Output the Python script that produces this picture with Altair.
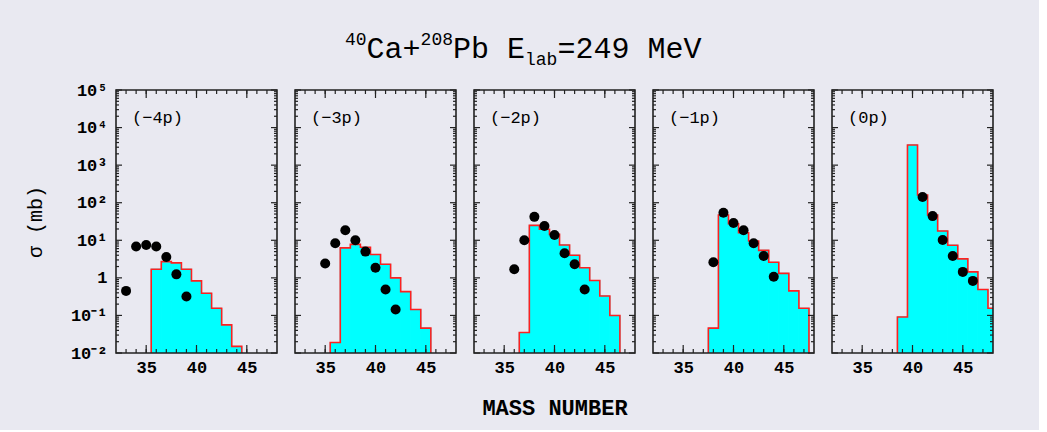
import altair as alt
import pandas as pd

# ---------------- data ----------------
panel_labels = ["(−4p)", "(−3p)", "(−2p)", "(−1p)", "(0p)"]

exp_A = [
    [33, 34, 35, 36, 37, 38, 39],
    [35, 36, 37, 38, 39, 40, 41, 42],
    [36, 37, 38, 39, 40, 41, 42, 43],
    [38, 39, 40, 41, 42, 43, 44],
    [41, 42, 43, 44, 45, 46],
]
exp_sigma = [
    [0.45, 6.8, 7.5, 6.8, 3.6, 1.24, 0.32],
    [2.4, 8.3, 18.5, 10.0, 5.0, 1.86, 0.49, 0.144],
    [1.7, 10.0, 42.0, 24.0, 13.8, 4.5, 2.3, 0.49],
    [2.6, 54.0, 29.0, 18.5, 8.3, 3.8, 1.07],
    [142.0, 44.0, 10.2, 3.8, 1.44, 0.83],
]
th_A = [
    [36, 37, 38, 39, 40, 41, 42, 43, 44],
    [36, 37, 38, 39, 40, 41, 42, 43, 44, 45],
    [37, 38, 39, 40, 41, 42, 43, 44, 45, 46],
    [38, 39, 40, 41, 42, 43, 44, 45, 46, 47],
    [39, 40, 41, 42, 43, 44, 45, 46, 47, 48],
]
th_sigma = [
    [1.7, 2.7, 2.5, 1.7, 0.83, 0.39, 0.155, 0.056, 0.015],
    [0.019, 6.3, 7.8, 6.5, 4.2, 2.3, 1.0, 0.43, 0.144, 0.046],
    [0.035, 25.0, 19.6, 14.4, 7.5, 4.0, 1.86, 0.85, 0.33, 0.10],
    [0.046, 47.0, 27.6, 15.9, 9.6, 5.4, 2.6, 1.32, 0.45, 0.155],
    [0.091, 3450.0, 161.0, 47.0, 17.7, 7.4, 3.2, 1.44, 0.49, 0.155],
]

x_domain = [32, 48]
y_domain = [0.01, 1e5]
x_ticks_major = [35, 40, 45]
x_ticks_minor = list(range(33, 48))
y_ticks_major = [0.01, 0.1, 1, 10, 100, 1000, 10000, 100000]
y_ticks_minor = [m * 10.0 ** k for k in range(-2, 5) for m in range(2, 10)]
y_tick_labels = ["10⁻²", "10⁻¹", "1", "10¹", "10²", "10³", "10⁴", "10⁵"]

title_parts = ["40", "Ca+", "208", "Pb E", "lab", "=249 MeV"]
title_kinds = ["sup", "main", "sup", "main", "sub", "main"]
x_title = "MASS NUMBER"
y_title = "σ (mb)"

# ---------------- style ----------------
W, H = 161, 263
BG = "#e9e9f1"
CYAN = "#00ffff"
FONT = "Liberation Mono"
xscale = alt.Scale(domain=x_domain, nice=False, zero=False)
yscale = alt.Scale(type="log", domain=y_domain, nice=False)
label_expr = "[" + ",".join("'%s'" % s for s in y_tick_labels) + "][round(log(datum.value)/LN10)+2]"


def panel(i):
    xaxis = alt.Axis(values=x_ticks_major, labelFontSize=17, labelFontWeight="bold",
                     labelPadding=6, tickSize=0, ticks=False, domain=False, grid=False,
                     labelFlush=False, labelOverlap=False,
                     title=(x_title if i == 2 else None), titleFontSize=22,
                     titleFontWeight="bold", titlePadding=22)
    if i == 0:
        yaxis = alt.Axis(values=y_ticks_major, labelExpr=label_expr, labelFontSize=17,
                         labelFontWeight="bold", labelPadding=9, tickSize=0, ticks=False,
                         domain=False, grid=False, labelFlush=False, labelOverlap=False,
                         title=y_title, titleFontSize=20, titleFontWeight="normal",
                         titlePadding=25)
    else:
        yaxis = None

    def X(f):
        return alt.X(f, type="quantitative", scale=xscale, axis=xaxis)

    def Y(f):
        return alt.Y(f, type="quantitative", scale=yscale, axis=yaxis)

    A = th_A[i]
    s = th_sigma[i]
    hist = pd.DataFrame({"lo": [a - 0.5 for a in A], "hi": [a + 0.5 for a in A],
                         "sigma": s, "floor": [y_domain[0]] * len(A)})
    ox = [A[0] - 0.5] + [a - 0.5 for a in A] + [A[-1] + 0.5]
    oy = [y_domain[0]] + list(s) + [y_domain[0]]
    outline = pd.DataFrame({"x": ox, "y": oy, "i": list(range(len(ox)))})
    pts = pd.DataFrame({"A": exp_A[i], "sigma": exp_sigma[i]})

    fill = alt.Chart(hist).mark_rect(fill=CYAN, stroke=CYAN, strokeWidth=1,
                                     clip=True).encode(
        x=X("lo"), x2="hi", y=Y("sigma"), y2="floor")
    line = alt.Chart(outline).mark_line(color="#ff2020", strokeWidth=1.6,
                                        interpolate="step-after", clip=True).encode(
        x=X("x"), y=Y("y"), order=alt.Order("i:Q"))
    dots = alt.Chart(pts).mark_circle(color="black", size=100, opacity=1).encode(
        x=X("A"), y=Y("sigma"))

    xmin = pd.DataFrame({"v": x_ticks_minor})
    xmaj = pd.DataFrame({"v": x_ticks_major})
    ymin = pd.DataFrame({"v": y_ticks_minor})
    ymaj = pd.DataFrame({"v": y_ticks_major})
    tk = dict(color="#222222", strokeWidth=1.2)
    layers = [fill, line, dots]
    for df, ln in ((xmin, 4), (xmaj, 8)):
        layers.append(alt.Chart(df).mark_rule(**tk).encode(
            x=X("v"), y=alt.value(H), y2=alt.value(H - ln)))
        layers.append(alt.Chart(df).mark_rule(**tk).encode(
            x=X("v"), y=alt.value(0), y2=alt.value(ln)))
    for df, ln in ((ymin, 3), (ymaj, 6)):
        layers.append(alt.Chart(df).mark_rule(**tk).encode(
            y=Y("v"), x=alt.value(0), x2=alt.value(ln)))
        layers.append(alt.Chart(df).mark_rule(**tk).encode(
            y=Y("v"), x=alt.value(W), x2=alt.value(W - ln)))
    frame = alt.Chart(pd.DataFrame({"k": [0]})).mark_rect(
        fillOpacity=0, stroke="#222222", strokeWidth=1.6).encode(
        x=alt.value(0), x2=alt.value(W), y=alt.value(0), y2=alt.value(H))
    lab = alt.Chart(pd.DataFrame({"t": [panel_labels[i]]})).mark_text(
        align="left", baseline="middle", fontSize=17, fontWeight="normal", font=FONT,
        color="black").encode(x=alt.value(16), y=alt.value(28), text="t:N")
    layers += [frame, lab]
    return alt.layer(*layers).properties(width=W, height=H)


# ---------------- title ----------------
BIG, SMALL = 30, 18
cx = 229
title_layers = []
for part, kind in zip(title_parts, title_kinds):
    size = BIG if kind == "main" else SMALL
    ybase = {"main": 53, "sup": 40, "sub": 60}[kind]
    title_layers.append(
        alt.Chart(pd.DataFrame({"t": [part]})).mark_text(
            align="left", baseline="alphabetic", fontSize=size, font=FONT,
            color="black").encode(x=alt.value(cx), y=alt.value(ybase), text="t:N"))
    cx += 0.6 * size * len(part)
title_chart = alt.layer(*title_layers).properties(width=850, height=70)

panels = alt.hconcat(*[panel(i) for i in range(5)], spacing=16)
chart = alt.vconcat(title_chart, panels, spacing=6).properties(
    padding={"left": 25, "top": 5, "right": 45, "bottom": 12}
).configure(background=BG, font=FONT).configure_view(stroke=None)

chart.save("out.html", embed_options={"renderer": "svg", "actions": False})
